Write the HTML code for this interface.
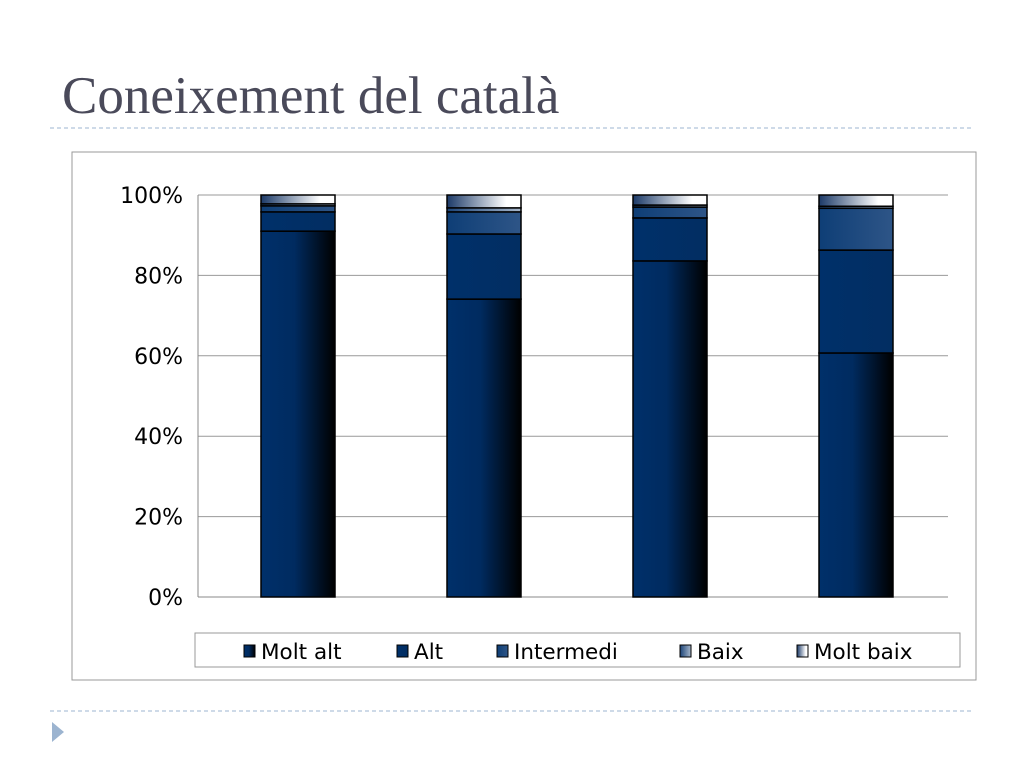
<!DOCTYPE html>
<html><head><meta charset="utf-8"><style>
body{margin:0;background:#fff;}
svg text{font-family:"DejaVu Sans","Liberation Sans",sans-serif;}
</style></head><body>
<svg width="1024" height="768" xmlns="http://www.w3.org/2000/svg">
<defs>
<linearGradient id="g0" x1="0" x2="1"><stop offset="0" stop-color="#00306a"/><stop offset="0.45" stop-color="#002b60"/><stop offset="1" stop-color="#000"/></linearGradient>
<linearGradient id="g1" x1="0" x2="1"><stop offset="0" stop-color="#00306a"/><stop offset="1" stop-color="#022e62"/></linearGradient>
<linearGradient id="g2" x1="0" x2="1"><stop offset="0" stop-color="#0e3e76"/><stop offset="1" stop-color="#2e5587"/></linearGradient>
<linearGradient id="g3" x1="0" x2="1"><stop offset="0" stop-color="#1c4478"/><stop offset="1" stop-color="#a8b8cc"/></linearGradient>
<linearGradient id="g4" x1="0" x2="1"><stop offset="0" stop-color="#1c3a68"/><stop offset="0.8" stop-color="#fff"/><stop offset="1" stop-color="#fff"/></linearGradient>
</defs>
<text x="62" y="113" font-size="53" fill="#4a4a5a" style="font-family:'Liberation Serif',serif">Coneixement del català</text>
<line x1="50" y1="128" x2="972" y2="128" stroke="#9cb4d0" stroke-dasharray="4,3"/>
<line x1="50" y1="711" x2="972" y2="711" stroke="#9cb4d0" stroke-dasharray="4,3"/>
<polygon points="52,722 52,742 64,732" fill="#9cb4d0"/>
<rect x="72" y="152" width="904" height="528" fill="#fff" stroke="#999"/>
<g id="chart"></g>
<rect x="195" y="633" width="765" height="34" fill="#fff" stroke="#999"/>
<g id="legend"></g>
</svg>
<script>
const categories=["A","B","C","D"];
const moltAlt=[91.0,74.1,83.6,60.7];
const alt=[4.8,16.2,10.7,25.6];
const intermedi=[1.5,5.5,2.7,10.4];
const baix=[0.5,1.0,0.5,0.5];
const moltBaix=[2.2,3.2,2.5,2.8];
const ticks=["0%","20%","40%","60%","80%","100%"];
const seriesNames=["Molt alt","Alt","Intermedi","Baix","Molt baix"];
const series=[moltAlt,alt,intermedi,baix,moltBaix];
const NS="http://www.w3.org/2000/svg";
const g=document.getElementById('chart');
const x0=198,x1=948,y0=597,y1=195;
const y=v=>y0-(v/100)*(y0-y1);
const band=186;
const xc=i=>205+band*(i+0.5);
function mk(t,a){const e=document.createElementNS(NS,t);for(const k in a)e.setAttribute(k,a[k]);return e;}
ticks.forEach((t,i)=>{const v=i*20;
 const l=mk('line',{x1:x0,x2:x1,y1:y(v),y2:y(v),stroke:i==0?'#888':'#999','stroke-width':1});
 
 
 g.appendChild(l);
 const tx=mk('text',{x:183,y:y(v)+8,'text-anchor':'end','font-size':22,fill:'#000'});
 tx.textContent=t;
 
 
 g.appendChild(tx);});
const ax=mk('line',{x1:x0,x2:x0,y1:y1,y2:y0,stroke:'#888'});


g.appendChild(ax);
categories.forEach((c,i)=>{let acc=0;const w=74;
 series.forEach((s,j)=>{const v=s[i];
  const r=mk('rect',{x:xc(i)-w/2,y:y(acc+v),width:w,height:Math.max(0,y(acc)-y(acc+v)),fill:'url(#g'+j+')',stroke:'#000','stroke-width':1.5});
  
  
  g.appendChild(r);acc+=v;});});
const lg=document.getElementById('legend');
const lx=[244,397,497,680,797];
seriesNames.forEach((n,j)=>{
 const r=mk('rect',{x:lx[j],y:645,width:11,height:12,fill:'url(#g'+j+')',stroke:'#000'});
 
 
 lg.appendChild(r);
 const t=mk('text',{x:lx[j]+17,y:659,'font-size':21.5,fill:'#000'});
 t.textContent=n;
 
 
 lg.appendChild(t);});
</script>
</body></html>
